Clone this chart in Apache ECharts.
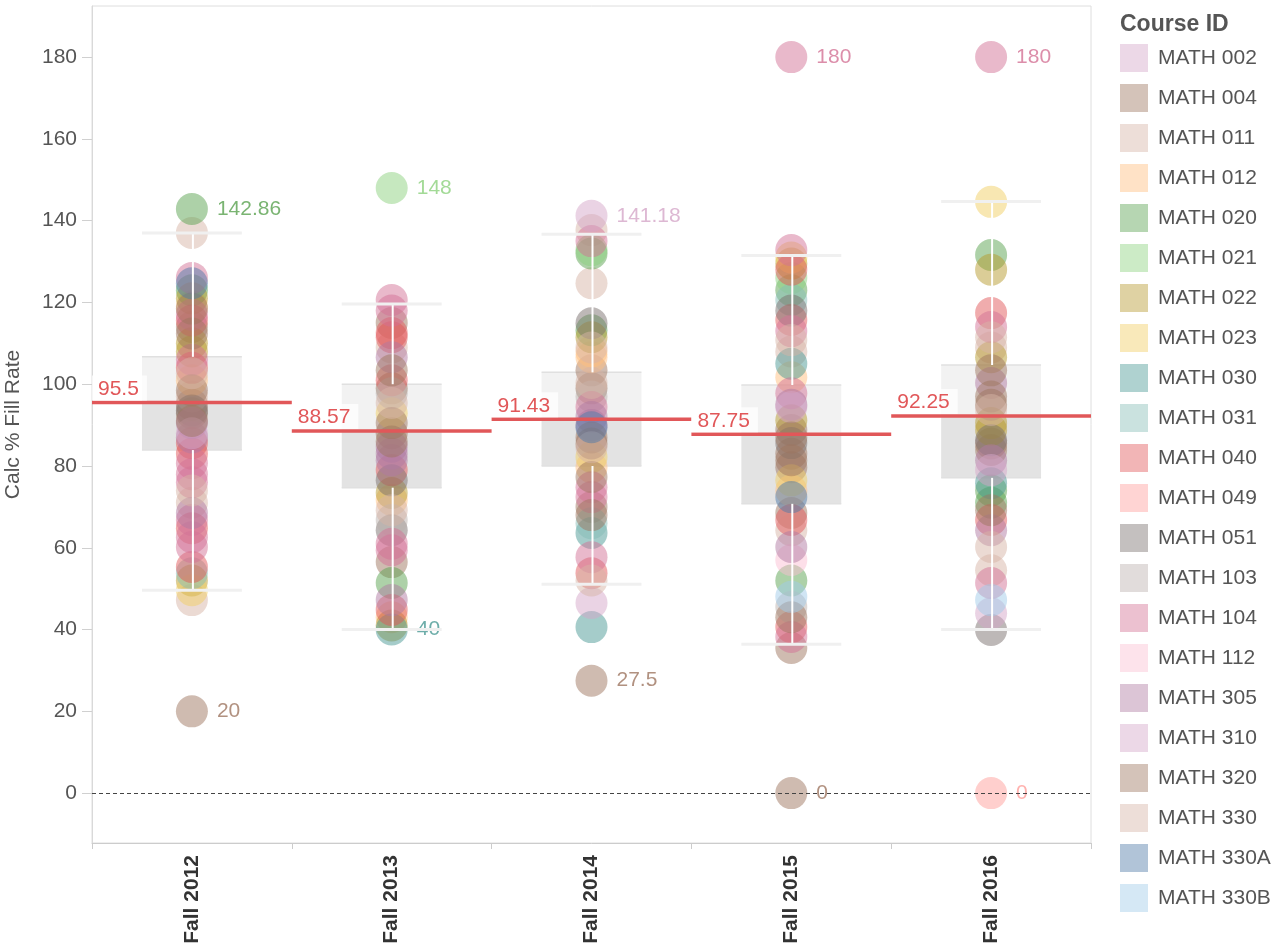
<!DOCTYPE html>
<html>
<head>
<meta charset="utf-8">
<title>Calc % Fill Rate by term</title>
<script src="https://cdn.jsdelivr.net/npm/echarts@6/dist/echarts.min.js"></script>
<style>
    html, body {margin: 0; padding: 0; background: #fff;}
    #chart {width: 1281px; height: 950px;}
</style>
</head>
<body>
<div id="chart"></div>
<script>
// terms on the x axis
var years = ['Fall 2012', 'Fall 2013', 'Fall 2014', 'Fall 2015', 'Fall 2016'];
var yTicks = [0, 20, 40, 60, 80, 100, 120, 140, 160, 180];

// course ids and their colours (legend order)
var courses = ['MATH 002', 'MATH 004', 'MATH 011', 'MATH 012', 'MATH 020', 'MATH 021', 'MATH 022',
    'MATH 023', 'MATH 030', 'MATH 031', 'MATH 040', 'MATH 049', 'MATH 051', 'MATH 103', 'MATH 104',
    'MATH 112', 'MATH 305', 'MATH 310', 'MATH 320', 'MATH 330', 'MATH 330A', 'MATH 330B'];
var courseColors = ['#d4a6c8', '#9d7660', '#d7b5a6', '#ffbe7d', '#59a14f', '#8cd17d', '#b6992d',
    '#f1ce63', '#499894', '#86bcb6', '#e15759', '#ff9d9a', '#79706e', '#bab0ac', '#d37295',
    '#fabfd2', '#b07aa1', '#d4a6c8', '#9d7660', '#d7b5a6', '#4e79a7', '#a0cbe8'];

// box stats per term: [lower whisker, q1, median, q3, upper whisker]
var boxStats = [
    [49.6, 83.9, 95.5, 106.7, 137],
    [40, 74.7, 88.57, 100, 119.6],
    [51.1, 80, 91.43, 102.9, 136.7],
    [36.4, 70.75, 87.75, 99.8, 131.5],
    [40, 77.1, 92.25, 104.7, 144.7]
];

// fill rate per section, [course, value]
var fall2012 = [
    ['MATH 020', 142.86], ['MATH 011', 137], ['MATH 104', 126], ['MATH 330A', 124.7], ['MATH 020', 123],
    ['MATH 022', 121], ['MATH 012', 119], ['MATH 320', 118.5], ['MATH 104', 117], ['MATH 040', 115.6],
    ['MATH 004', 114], ['MATH 320', 112.4], ['MATH 022', 110], ['MATH 022', 108], ['MATH 104', 106],
    ['MATH 040', 104], ['MATH 330', 102.7], ['MATH 012', 101], ['MATH 320', 98.5], ['MATH 011', 97],
    ['MATH 004', 95], ['MATH 051', 93.6], ['MATH 004', 92.9], ['MATH 320', 91], ['MATH 305', 90.5],
    ['MATH 310', 88], ['MATH 305', 87], ['MATH 040', 85.6], ['MATH 040', 83], ['MATH 104', 80.7],
    ['MATH 104', 78], ['MATH 104', 76], ['MATH 330', 74], ['MATH 011', 71], ['MATH 305', 68.5],
    ['MATH 104', 66.8], ['MATH 040', 64.8], ['MATH 104', 62.6], ['MATH 104', 60.2], ['MATH 040', 55.3],
    ['MATH 031', 53.8], ['MATH 022', 52], ['MATH 023', 49.6], ['MATH 011', 47.2], ['MATH 004', 20]
];
var fall2013 = [
    ['MATH 021', 148], ['MATH 104', 120.6], ['MATH 104', 118], ['MATH 004', 115], ['MATH 040', 112.5],
    ['MATH 040', 111.5], ['MATH 011', 109], ['MATH 305', 106.6], ['MATH 320', 103.4], ['MATH 040', 101],
    ['MATH 004', 99], ['MATH 103', 97.8], ['MATH 330', 95.4], ['MATH 023', 92.9], ['MATH 320', 90.5],
    ['MATH 004', 88], ['MATH 320', 86], ['MATH 305', 84.7], ['MATH 305', 83], ['MATH 305', 81.4],
    ['MATH 040', 79], ['MATH 051', 76.5], ['MATH 022', 73.4], ['MATH 012', 71.7], ['MATH 330', 69.2],
    ['MATH 103', 66.8], ['MATH 051', 64.3], ['MATH 104', 61], ['MATH 104', 59.4], ['MATH 004', 56.5],
    ['MATH 020', 51.4], ['MATH 305', 47.2], ['MATH 040', 44.8], ['MATH 012', 43], ['MATH 022', 41],
    ['MATH 030', 40]
];
var fall2014 = [
    ['MATH 310', 141.18], ['MATH 011', 137.7], ['MATH 104', 135], ['MATH 021', 132.8], ['MATH 020', 132],
    ['MATH 011', 124.7], ['MATH 051', 114.9], ['MATH 020', 113.2], ['MATH 022', 111.5], ['MATH 330', 109],
    ['MATH 012', 108], ['MATH 012', 106.6], ['MATH 004', 103.4], ['MATH 330', 100.3], ['MATH 004', 99],
    ['MATH 103', 97], ['MATH 104', 94.4], ['MATH 305', 92], ['MATH 305', 90], ['MATH 330A', 89.5],
    ['MATH 320', 87], ['MATH 320', 85.5], ['MATH 330', 84.6], ['MATH 023', 82.2], ['MATH 012', 79.7],
    ['MATH 320', 77.3], ['MATH 104', 74.8], ['MATH 104', 72.4], ['MATH 004', 70], ['MATH 320', 68],
    ['MATH 031', 66], ['MATH 030', 63.6], ['MATH 104', 57.7], ['MATH 040', 53.8], ['MATH 330', 52],
    ['MATH 310', 46.5], ['MATH 030', 40.6], ['MATH 320', 27.5]
];
var fall2015 = [
    ['MATH 104', 180], ['MATH 104', 132.8], ['MATH 023', 131], ['MATH 022', 129.5], ['MATH 040', 128],
    ['MATH 021', 126], ['MATH 020', 123], ['MATH 031', 120.6], ['MATH 051', 118], ['MATH 040', 115.7],
    ['MATH 104', 113], ['MATH 330', 110.8], ['MATH 011', 108], ['MATH 030', 105], ['MATH 012', 101.7],
    ['MATH 104', 97.8], ['MATH 305', 95], ['MATH 310', 94.4], ['MATH 022', 91.2], ['MATH 004', 88.8],
    ['MATH 320', 87], ['MATH 051', 85.6], ['MATH 004', 83], ['MATH 320', 81.4], ['MATH 004', 79.7],
    ['MATH 023', 76.5], ['MATH 012', 74], ['MATH 330A', 72.4], ['MATH 004', 68.5], ['MATH 040', 66.8],
    ['MATH 011', 64.3], ['MATH 305', 60.2], ['MATH 112', 57], ['MATH 020', 52], ['MATH 330B', 48],
    ['MATH 103', 45.5], ['MATH 320', 43], ['MATH 040', 40.6], ['MATH 104', 38.2], ['MATH 004', 35.5],
    ['MATH 320', 0]
];
var fall2016 = [
    ['MATH 104', 180], ['MATH 023', 144.6], ['MATH 020', 131.6], ['MATH 022', 128], ['MATH 040', 117.4],
    ['MATH 104', 114], ['MATH 330', 111.5], ['MATH 011', 109], ['MATH 022', 106.6], ['MATH 320', 103.4],
    ['MATH 305', 100.3], ['MATH 320', 97], ['MATH 320', 95], ['MATH 330', 93.7], ['MATH 022', 90.5],
    ['MATH 022', 88.8], ['MATH 051', 86.3], ['MATH 004', 85.5], ['MATH 004', 83.9], ['MATH 305', 81.4],
    ['MATH 310', 79], ['MATH 030', 75.8], ['MATH 020', 74], ['MATH 020', 71], ['MATH 320', 69.2],
    ['MATH 040', 66.8], ['MATH 305', 64.3], ['MATH 330', 60.2], ['MATH 011', 54.5], ['MATH 104', 51.4],
    ['MATH 330B', 47.2], ['MATH 310', 44], ['MATH 051', 39.9], ['MATH 049', 0]
];
var yearPoints = [fall2012, fall2013, fall2014, fall2015, fall2016];

function rgba(hex, a) {
    var n = parseInt(hex.slice(1), 16);
    return 'rgba(' + (n >> 16) + ',' + ((n >> 8) & 255) + ',' + (n & 255) + ',' + a + ')';
}

var FONT = '"Liberation Sans", Arial, sans-serif';

// min / max of each term get a value label
var extremes = yearPoints.map(function (pts) {
    var vals = pts.map(function (p) { return p[1]; });
    return [Math.min.apply(null, vals), Math.max.apply(null, vals)];
});

var scatterSeries = courses.map(function (c, ci) {
    var data = [];
    yearPoints.forEach(function (pts, yi) {
        pts.forEach(function (p) {
            if (p[0] !== c) return;
            var isExt = p[1] === extremes[yi][0] || p[1] === extremes[yi][1];
            data.push({value: [yi, p[1]], label: {show: isExt}});
        });
    });
    return {
        name: c,
        type: 'scatter',
        symbol: 'circle',
        symbolSize: 32,
        z: 2,
        itemStyle: {color: rgba(courseColors[ci], 0.62)},
        label: {
            show: false,
            position: 'right',
            distance: 9,
            fontFamily: FONT,
            fontSize: 21,
            color: courseColors[ci],
            formatter: function (p) { return p.value[1]; }
        },
        emphasis: {disabled: true},
        data: data
    };
});

// box: two shades split at the median
var boxSeries = {
    type: 'custom',
    name: 'box',
    z: 1,
    silent: true,
    data: boxStats.map(function (s, i) { return [i].concat(s); }),
    renderItem: function (params, api) {
        var x = api.value(0);
        var q1 = api.coord([x, api.value(2)]);
        var med = api.coord([x, api.value(3)]);
        var q3 = api.coord([x, api.value(4)]);
        var w = api.size([1, 0])[0] * 0.5;
        var left = q1[0] - w / 2;
        return {
            type: 'group',
            children: [
                {type: 'rect', shape: {x: left, y: q3[1], width: w, height: med[1] - q3[1]},
                    style: {fill: '#f2f2f2'}},
                {type: 'rect', shape: {x: left, y: med[1], width: w, height: q1[1] - med[1]},
                    style: {fill: '#e3e3e3'}},
                {type: 'line', shape: {x1: left, y1: q3[1], x2: left + w, y2: q3[1]},
                    style: {stroke: '#e0e0e0', lineWidth: 1.5}},
                {type: 'line', shape: {x1: left, y1: q1[1], x2: left + w, y2: q1[1]},
                    style: {stroke: '#e0e0e0', lineWidth: 1.5}}
            ]
        };
    }
};

// whiskers and caps, drawn over the circles
var whiskerSeries = {
    type: 'custom',
    name: 'whisker',
    z: 3,
    silent: true,
    data: boxStats.map(function (s, i) { return [i].concat(s); }),
    renderItem: function (params, api) {
        var x = api.value(0);
        var lo = api.coord([x, api.value(1)]);
        var q1 = api.coord([x, api.value(2)]);
        var q3 = api.coord([x, api.value(4)]);
        var hi = api.coord([x, api.value(5)]);
        var w = api.size([1, 0])[0] * 0.5;
        var cx = lo[0] + 1;
        return {
            type: 'group',
            children: [
                {type: 'line', shape: {x1: cx, y1: q3[1], x2: cx, y2: hi[1]}, style: {stroke: '#fff', lineWidth: 2}},
                {type: 'line', shape: {x1: cx, y1: q1[1], x2: cx, y2: lo[1]}, style: {stroke: '#fff', lineWidth: 2}},
                {type: 'line', shape: {x1: lo[0] - w / 2, y1: hi[1], x2: lo[0] + w / 2, y2: hi[1]},
                    style: {stroke: '#f0f0f0', lineWidth: 3}},
                {type: 'line', shape: {x1: lo[0] - w / 2, y1: lo[1], x2: lo[0] + w / 2, y2: lo[1]},
                    style: {stroke: '#f0f0f0', lineWidth: 3}}
            ]
        };
    }
};

// median reference line across the whole band, with its label
var medianSeries = {
    type: 'custom',
    name: 'median',
    z: 4,
    silent: true,
    data: boxStats.map(function (s, i) { return [i, s[2]]; }),
    renderItem: function (params, api) {
        var x = api.value(0);
        var p = api.coord([x, api.value(1)]);
        var bw = api.size([1, 0])[0];
        var left = p[0] - bw / 2;
        return {
            type: 'group',
            children: [
                {type: 'line', shape: {x1: left, y1: p[1], x2: left + bw, y2: p[1]},
                    style: {stroke: '#e15759', lineWidth: 3.5}},
                {type: 'text', x: left, y: p[1] - 2,
                    style: {
                        text: String(api.value(1)), fill: '#e15759', font: '21px ' + FONT,
                        verticalAlign: 'bottom', align: 'left',
                        backgroundColor: 'rgba(255,255,255,0.75)', padding: [3, 8, 1, 6]
                    }}
            ]
        };
    }
};

// dashed zero line
var zeroSeries = {
    type: 'scatter',
    name: 'zero',
    data: [],
    silent: true,
    markLine: {
        silent: true,
        symbol: 'none',
        label: {show: false},
        lineStyle: {color: '#444', type: [4, 3], width: 1},
        data: [{yAxis: 0}]
    }
};

var option = {
    backgroundColor: '#fff',
    animation: false,
    title: {
        text: 'Course ID',
        left: 1115,
        top: 8,
        textStyle: {fontFamily: FONT, fontSize: 23, fontWeight: 'bold', color: '#555'}
    },
    legend: {
        data: courses.map(function (c, ci) {
            return {name: c, itemStyle: {color: rgba(courseColors[ci], 0.55)}};
        }),
        orient: 'vertical',
        left: 1115,
        top: 39,
        icon: 'rect',
        itemWidth: 28,
        itemHeight: 28,
        itemGap: 12,
        textStyle: {fontFamily: FONT, fontSize: 21, color: '#555', padding: [0, 0, 0, 5]}
    },
    grid: {
        left: 92, right: 190, top: 6, bottom: 107,
        outerBoundsMode: 'none',
        containLabel: false,
        show: true, borderColor: '#dedede', borderWidth: 1
    },
    xAxis: {
        type: 'category',
        data: years,
        boundaryGap: true,
        axisLine: {onZero: false, lineStyle: {color: '#cccccc'}},
        axisTick: {show: true, length: 6, lineStyle: {color: '#cccccc'}},
        axisLabel: {rotate: 90, margin: 12, fontFamily: FONT, fontSize: 21, fontWeight: 'bold', color: '#333'},
        splitLine: {show: false}
    },
    yAxis: {
        type: 'value',
        min: -12.2,
        max: 192.5,
        name: 'Calc % Fill Rate',
        nameLocation: 'middle',
        nameGap: 68,
        nameTextStyle: {fontFamily: FONT, fontSize: 21, color: '#555'},
        axisLine: {show: true, lineStyle: {color: '#d9d9d9'}},
        axisTick: {show: true, length: 10, customValues: yTicks, lineStyle: {color: '#d0d0d0'}},
        axisLabel: {customValues: yTicks, margin: 15, fontFamily: FONT, fontSize: 21, color: '#555'},
        splitLine: {show: false}
    },
    series: [boxSeries, zeroSeries].concat(scatterSeries).concat([whiskerSeries, medianSeries])
};

var myChart = echarts.init(document.getElementById('chart'));
myChart.setOption(option);
</script>
</body>
</html>
